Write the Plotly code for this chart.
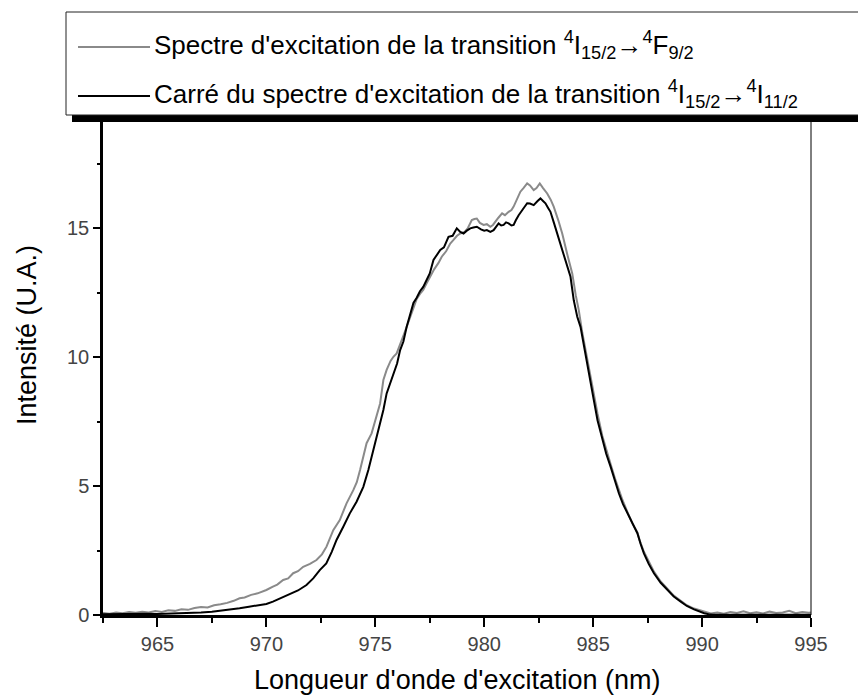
import plotly.graph_objects as go

# Excitation spectrum of the 4I15/2 -> 4F9/2 transition (grey curve)
wl_f92 = [
    962.5, 962.8, 963.1, 963.4, 963.7, 964.0, 964.3, 964.6, 964.9, 965.2,
    965.5, 965.8, 966.1, 966.4, 966.7, 967.0, 967.3, 967.6, 967.9, 968.2,
    968.5, 968.77, 969.0, 969.3, 969.6, 970.0, 970.3, 970.5, 970.77, 971.0,
    971.23, 971.45, 971.69, 972.0, 972.3, 972.55, 972.76, 972.9, 973.07, 973.37,
    973.68, 973.99, 974.15, 974.3, 974.45, 974.6, 974.83, 975.0, 975.22, 975.37,
    975.52, 975.7, 975.83, 975.98, 976.14, 976.3, 976.44, 976.6, 976.75, 976.9,
    977.05, 977.2, 977.35, 977.5, 977.7, 977.9, 978.05, 978.25, 978.44, 978.6,
    978.75, 978.9, 979.1, 979.25, 979.43, 979.55, 979.66, 979.8, 979.97, 980.12,
    980.28, 980.4, 980.5, 980.65, 980.82, 980.95, 981.12, 981.25, 981.35, 981.5,
    981.66, 981.8, 981.97, 982.1, 982.27, 982.4, 982.55, 982.7, 982.89, 983.05,
    983.19, 983.4, 983.58, 983.8, 984.04, 984.2, 984.34, 984.5, 984.73, 985.03,
    985.2, 985.42, 985.6, 985.8, 986.0, 986.18, 986.35, 986.57, 986.8, 987.03,
    987.15, 987.33, 987.55, 987.79, 988.1, 988.41, 988.7, 989.02, 989.3, 989.63,
    990.1, 990.4, 990.7, 991.0, 991.3, 991.6, 991.9, 992.2, 992.5, 992.8,
    993.1, 993.4, 993.7, 994.0, 994.3, 994.6, 994.9, 995.0,
]
int_f92 = [
    0.08, 0.05, 0.10, 0.07, 0.12, 0.09, 0.13, 0.10, 0.15, 0.12,
    0.18, 0.16, 0.22, 0.20, 0.27, 0.31, 0.29, 0.38, 0.42, 0.47,
    0.55, 0.65, 0.68, 0.78, 0.84, 0.97, 1.10, 1.18, 1.36, 1.42,
    1.62, 1.70, 1.87, 1.98, 2.13, 2.35, 2.65, 2.95, 3.29, 3.68,
    4.33, 4.84, 5.15, 5.62, 6.15, 6.66, 7.04, 7.55, 8.20, 9.11,
    9.50, 9.85, 10.01, 10.14, 10.53, 10.85, 11.17, 11.55, 11.95, 12.25,
    12.45, 12.60, 12.85, 13.10, 13.40, 13.65, 13.89, 14.10, 14.40, 14.55,
    14.70, 14.79, 14.85, 15.00, 15.31, 15.35, 15.37, 15.20, 15.12, 15.15,
    15.05, 15.12, 15.24, 15.40, 15.57, 15.50, 15.63, 15.70, 15.83, 16.10,
    16.41, 16.55, 16.73, 16.65, 16.47, 16.55, 16.73, 16.55, 16.34, 16.10,
    15.83, 15.30, 14.79, 14.02, 13.24, 12.40, 11.82, 10.95, 9.90, 8.50,
    7.80, 6.95, 6.40, 5.85, 5.30, 4.85, 4.45, 4.00, 3.55, 3.20,
    2.85, 2.45, 2.05, 1.68, 1.30, 1.00, 0.75, 0.55, 0.38, 0.25,
    0.12, 0.06, 0.10, 0.05, 0.12, 0.08, 0.14, 0.07, 0.11, 0.06,
    0.13, 0.08, 0.10, 0.16, 0.07, 0.12, 0.09, 0.10,
]

# Square of the excitation spectrum of the 4I15/2 -> 4I11/2 transition (black curve)
wl_i112 = [
    962.5, 963.0, 963.5, 964.0, 964.5, 965.0, 965.5, 966.0, 966.5, 967.0,
    967.5, 968.0, 968.4, 968.77, 969.2, 969.6, 970.0, 970.3, 970.6, 971.07,
    971.45, 971.84, 972.15, 972.45, 972.75, 973.0, 973.22, 973.53, 973.83, 974.14,
    974.45, 974.68, 974.91, 975.06, 975.2, 975.37, 975.52, 975.67, 975.83, 976.0,
    976.14, 976.29, 976.44, 976.6, 976.75, 976.9, 977.05, 977.2, 977.35, 977.5,
    977.67, 977.82, 977.98, 978.15, 978.36, 978.55, 978.74, 978.9, 979.05, 979.2,
    979.36, 979.5, 979.66, 979.85, 980.0, 980.12, 980.28, 980.43, 980.55, 980.66,
    980.78, 980.89, 981.0, 981.12, 981.25, 981.35, 981.45, 981.58, 981.75, 981.97,
    982.1, 982.27, 982.45, 982.58, 982.7, 982.81, 982.92, 983.04, 983.2, 983.35,
    983.5, 983.65, 983.8, 983.96, 984.11, 984.27, 984.42, 984.58, 984.73, 984.88,
    985.03, 985.2, 985.42, 985.6, 985.8, 986.0, 986.18, 986.37, 986.57, 986.8,
    987.03, 987.18, 987.33, 987.55, 987.79, 988.1, 988.41, 988.7, 989.02, 989.3,
    989.63, 989.9, 990.1, 990.3, 990.5, 991.0, 992.0, 993.0, 994.0, 995.0,
]
int_i112 = [
    0.03, 0.04, 0.03, 0.04, 0.05, 0.04, 0.05, 0.06, 0.08, 0.10,
    0.13, 0.17, 0.21, 0.26, 0.32, 0.38, 0.43, 0.52, 0.63, 0.78,
    0.95, 1.16, 1.42, 1.74, 2.00, 2.45, 2.91, 3.42, 3.94, 4.39,
    4.97, 5.62, 6.40, 6.91, 7.40, 7.95, 8.59, 8.98, 9.37, 9.75,
    10.27, 10.60, 11.17, 11.69, 12.10, 12.30, 12.55, 12.72, 12.95, 13.24,
    13.76, 13.95, 14.15, 14.25, 14.66, 14.70, 14.99, 14.85, 14.79, 14.90,
    14.99, 15.02, 15.05, 14.95, 14.90, 14.92, 14.85, 14.92, 15.05, 15.18,
    15.10, 15.12, 15.22, 15.18, 15.10, 15.12, 15.30, 15.50, 15.70, 15.96,
    15.95, 15.89, 16.05, 16.15, 16.05, 15.96, 15.80, 15.63, 15.20, 14.79,
    14.30, 13.89, 13.50, 13.11, 12.20, 11.56, 11.17, 10.40, 9.62, 8.95,
    8.33, 7.55, 6.78, 6.25, 5.75, 5.20, 4.72, 4.30, 3.94, 3.55,
    3.17, 2.75, 2.39, 1.98, 1.62, 1.25, 0.97, 0.72, 0.52, 0.35,
    0.22, 0.12, 0.07, 0.03, 0.01, 0.01, 0.01, 0.01, 0.01, 0.01,
]

x_ticks = [965, 970, 975, 980, 985, 990, 995]
y_ticks = [0, 5, 10, 15]

label_f92 = "Spectre d'excitation de la transition <sup>4</sup>I<sub>15/2</sub>\u2192<sup>4</sup>F<sub>9/2</sub>"
label_i112 = "Carré du spectre d'excitation de la transition <sup>4</sup>I<sub>15/2</sub>\u2192<sup>4</sup>I<sub>11/2</sub>"

GREY = "#8a8a8a"
BLACK = "#000000"
SANS = "Liberation Sans, Arial, sans-serif"

# figure geometry (pixels)
W, H = 858, 695
L, R, T, B = 103, 47, 121, 80
PW, PH = W - L - R, H - T - B


def px(xp):
    return (xp - L) / PW


def py(yp):
    return (H - B - yp) / PH


fig = go.Figure()
fig.add_trace(go.Scatter(x=wl_f92, y=int_f92, mode="lines", name=label_f92,
                         line=dict(color=GREY, width=2), showlegend=False))
fig.add_trace(go.Scatter(x=wl_i112, y=int_i112, mode="lines", name=label_i112,
                         line=dict(color=BLACK, width=2), showlegend=False))

shapes = [
    # right frame line
    dict(type="line", xref="paper", yref="paper", x0=1, x1=1, y0=0, y1=1,
         line=dict(color="black", width=1)),
    # legend drop shadow
    dict(type="rect", xref="paper", yref="paper", x0=px(72), x1=px(880),
         y0=py(122), y1=py(18), line=dict(width=0), fillcolor="black", layer="above"),
    # legend box
    dict(type="rect", xref="paper", yref="paper", x0=px(66), x1=px(874),
         y0=py(115), y1=py(12), line=dict(color="#222", width=1), fillcolor="white",
         layer="above"),
    # legend sample lines
    dict(type="line", xref="paper", yref="paper", x0=px(78), x1=px(150),
         y0=py(47), y1=py(47), line=dict(color=GREY, width=2), layer="above"),
    dict(type="line", xref="paper", yref="paper", x0=px(78), x1=px(150),
         y0=py(96), y1=py(96), line=dict(color=BLACK, width=2), layer="above"),
]

annotations = [
    dict(text=label_f92, xref="paper", yref="paper", x=px(152), y=py(45),
         xanchor="left", yanchor="middle", showarrow=False,
         font=dict(family=SANS, size=26, color="black")),
    dict(text=label_i112, xref="paper", yref="paper", x=px(152), y=py(94),
         xanchor="left", yanchor="middle", showarrow=False,
         font=dict(family=SANS, size=26, color="black")),
    dict(text="Longueur d'onde d'excitation (nm)", xref="paper", yref="paper",
         x=0.5, y=py(680), xanchor="center", yanchor="middle", showarrow=False,
         font=dict(family=SANS, size=27, color="black")),
    dict(text="Intensité (U.A.)", xref="paper", yref="paper", textangle=-90,
         x=px(27), y=py(335), xanchor="center", yanchor="middle", showarrow=False,
         font=dict(family=SANS, size=27, color="black")),
]

fig.update_layout(
    width=W, height=H,
    margin=dict(l=L, r=R, t=T, b=B, pad=0),
    paper_bgcolor="white", plot_bgcolor="white",
    shapes=shapes, annotations=annotations,
    xaxis=dict(range=[962.5, 995], tickvals=x_ticks, ticks="outside", ticklen=9,
               tickwidth=2, tickcolor="black", showline=True, linewidth=2.5,
               linecolor="black", showgrid=False, zeroline=False,
               tickfont=dict(family=SANS, size=20, color="#444"),
               minor=dict(dtick=2.5, tick0=962.5, ticks="outside", ticklen=5,
                          tickwidth=2, tickcolor="black", showgrid=False)),
    yaxis=dict(range=[0, 19.15], tickvals=y_ticks, ticks="outside", ticklen=7,
               tickwidth=2, tickcolor="black", showline=True, linewidth=2.5,
               linecolor="black", showgrid=False, zeroline=False,
               tickfont=dict(family=SANS, size=20, color="#444"),
               minor=dict(dtick=2.5, tick0=0, ticks="outside", ticklen=3,
                          tickwidth=1.5, tickcolor="black", showgrid=False)),
)

fig.write_html("out.html")
